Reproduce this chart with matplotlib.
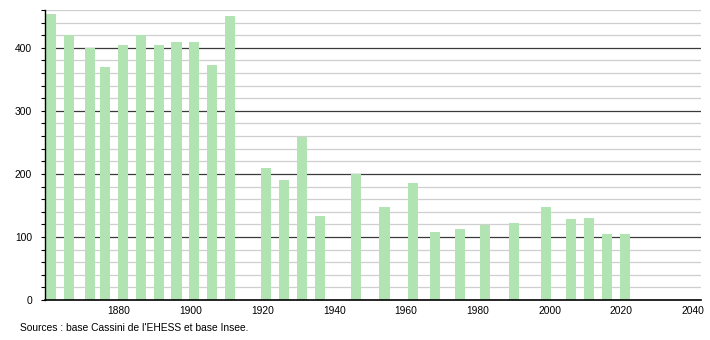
import matplotlib.pyplot as plt
import numpy as np

years = [1861, 1866, 1872, 1876, 1881, 1886, 1891, 1896, 1901, 1906, 1911,
         1921, 1926, 1931, 1936, 1946, 1954, 1962, 1968, 1975, 1982, 1990,
         1999, 2006, 2011, 2016, 2021]
population = [454, 420, 400, 370, 404, 421, 405, 409, 410, 372, 451,
              210, 191, 259, 134, 200, 147, 185, 108, 113, 119, 122,
              147, 128, 130, 105, 104]
x_ticks = [1880, 1900, 1920, 1940, 1960, 1980, 2000, 2020, 2040]
source = "Sources : base Cassini de l'EHESS et base Insee."

plt.rcParams['font.family'] = ['Liberation Sans', 'DejaVu Sans']

fig = plt.figure(figsize=(7.1, 3.4), dpi=100)
ax = fig.add_axes([44.5 / 710, 40 / 340, 656 / 710, 290 / 340])

# grid: light every 20, dark every 100
for v in range(20, 461, 20):
    if v % 100 == 0:
        ax.axhline(v, color='#3a3a3a', lw=0.9, zorder=1)
    else:
        ax.axhline(v, color='#cfcfcf', lw=0.9, zorder=1)

ax.bar(years, population, width=2.8, color='#b2e3b2', zorder=2)

ax.set_xlim(1859.2, 2042.1)
ax.set_ylim(0, 460)
ax.set_xticks(x_ticks)
ax.set_yticks([0, 100, 200, 300, 400])
ax.set_yticks(range(0, 461, 20), minor=True)
ax.tick_params(axis='x', length=0, labelsize=7.4, pad=4)
ax.tick_params(axis='y', which='both', length=3, width=0.8, labelsize=7.4, pad=6)

for s in ['top', 'right']:
    ax.spines[s].set_visible(False)
ax.spines['left'].set_linewidth(1)
ax.spines['bottom'].set_linewidth(1.2)

fig.text(20 / 710, 1 - 328 / 340, source, fontsize=7.4, va='center', ha='left')

fig.savefig('out.png', dpi=100)
